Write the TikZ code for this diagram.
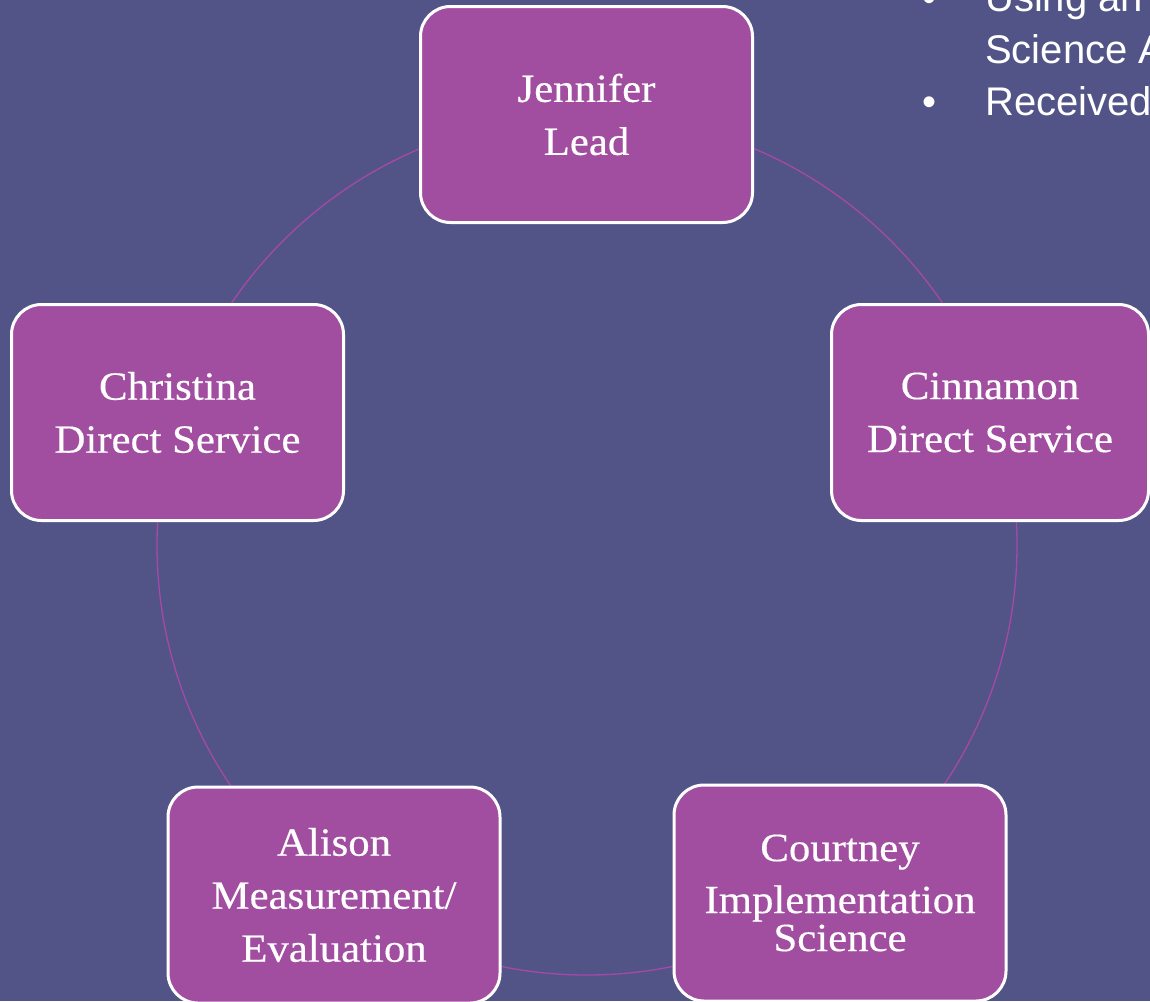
\documentclass[tikz,border=0pt]{standalone}
\usepackage{fontspec}
\setmainfont{Liberation Serif}[FakeStretch=1.07,FakeBold=0.4]
\newfontfamily\bulletfont{Liberation Sans}
\definecolor{bgblue}{RGB}{82,84,136}
\definecolor{boxpurple}{RGB}{161,78,161}
\definecolor{ringpurple}{RGB}{166,72,166}
\tikzset{
  rolebox/.style={draw=white, line width=3pt, fill=boxpurple, rounded corners=30pt,
    minimum width=332pt, minimum height=216pt, inner sep=0pt, align=center,
    text=white, font=\fontsize{40}{53}\selectfont},
  bullettext/.style={anchor=base west, inner sep=0pt, text=white,
    font=\bulletfont\fontsize{40}{52}\selectfont},
  ring/.style={draw=ringpurple, line width=1.3pt}
}
\begin{document}
\begin{tikzpicture}[x=1pt,y=-1pt]
\useasboundingbox (0,0) rectangle (1150,1001);
\clip (0,0) rectangle (1150,1001);
\fill[bgblue] (0,0) rectangle (1150,1001);
\coordinate (ctr) at (587,545);
\draw[ring] (ctr) circle (430pt);
\node[rolebox] (jennifer) at (586.5,114.5) {Jennifer\\Lead};
\node[rolebox] (christina) at (177.5,412.5) {Christina\\Direct Service};
\node[rolebox, minimum width=317pt] (cinnamon) at (990,412.5) {Cinnamon\\Direct Service};
\node[rolebox] (alison) at (334,895) {Alison\\Measurement/\\Evaluation};
\node[rolebox, font=\fontsize{40}{38}\selectfont] (courtney) at (840,893) {Courtney\\[14pt]Implementation\\Science};
\node[bullettext] (b1) at (922,11) {•};
\node[bullettext] (t1) at (985,11) {Using an};
\node[bullettext] (t2) at (985,63) {Science A};
\node[bullettext] (b2) at (922,115) {•};
\node[bullettext] (t3) at (985,115) {Received};
\end{tikzpicture}
\end{document}
